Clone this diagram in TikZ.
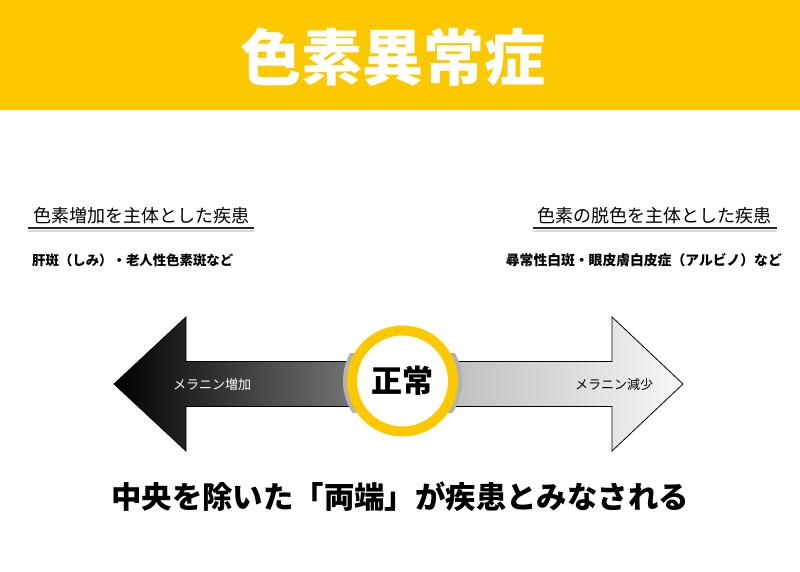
\documentclass[tikz,border=0pt]{standalone}
\usepackage{fontspec}
\setmainfont{Noto Sans CJK JP}
\usetikzlibrary{calc}
\definecolor{banner}{RGB}{252,201,0}
\definecolor{rimgray}{RGB}{178,178,178}
\tikzset{
  title/.style={white,font=\bfseries\fontsize{61}{61}\selectfont,inner sep=0pt},
  heading/.style={font=\fontsize{18}{18}\selectfont,inner xsep=5pt,inner ysep=3pt},
  uline/.style={line width=2pt,black!85},
  ushadow/.style={line width=2pt,black!15},
  sub/.style={font=\bfseries\fontsize{13.4}{13.4}\selectfont,inner sep=0pt},
  melanin/.style={font=\fontsize{13}{13}\selectfont,inner sep=0pt},
  ring/.style={circle,draw=banner,line width=10pt,fill=white,minimum size=101pt,inner sep=0pt,
    font=\bfseries\fontsize{31}{31}\selectfont},
  note/.style={font=\bfseries\fontsize{30.4}{30.4}\selectfont,inner sep=0pt}
}
\begin{document}
\begin{tikzpicture}[x=1pt,y=-1pt]
\useasboundingbox (0,0) rectangle (800,572);

% banner
\fill[banner] (0,0) rectangle (800,110);
\node[title] (title) at (393,57) {色素異常症};

% headings
\node[heading,anchor=west] (lhead) at (28,216) {色素増加を主体とした疾患};
\node[heading,anchor=east] (rhead) at (777,216) {色素の脱色を主体とした疾患};
\draw[ushadow] ([yshift=-3pt]lhead.south west)--([yshift=-3pt]lhead.south east);
\draw[uline] (lhead.south west)--(lhead.south east);
\draw[ushadow] ([yshift=-3pt]rhead.south west)--([yshift=-3pt]rhead.south east);
\draw[uline] (rhead.south west)--(rhead.south east);
\node[sub,anchor=west] (lsub) at (32,260) {肝斑（しみ）・老人性色素斑など};
\node[sub,anchor=east,font=\bfseries\fontsize{13.8}{13.8}\selectfont] (rsub) at (782,260) {尋常性白斑・眼皮膚白皮症（アルビノ）など};

% arrows
\draw[thick,left color=black,right color=black!45]
  (114,384)--(186,317)--(186,361.5)--(402,361.5)--(402,406.5)--(186,406.5)--(186,451)--cycle;
\draw[thick,left color=black!30,right color=black!3]
  (402,361.5)--(612,361.5)--(612,317)--(683,384)--(612,451)--(612,406.5)--(402,406.5)--cycle;
\begin{scope}
\clip (330,353) rectangle (475,412);
\fill[rimgray] (402.5,381) circle (59.5);
\end{scope}
\node[ring] (normal) at (402.5,381) {正常};
\node[melanin,white] (more) at (212,385) {メラニン増加};
\node[melanin] (less) at (614,385) {メラニン減少};

\node[note] (summary) at (400,497) {中央を除いた「両端」が疾患とみなされる};
\end{tikzpicture}
\end{document}
